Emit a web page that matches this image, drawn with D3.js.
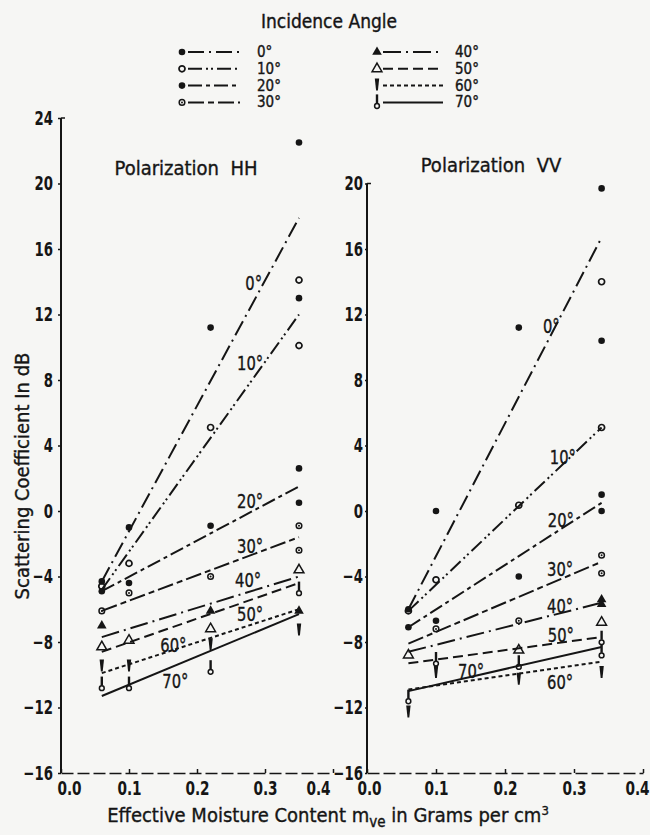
<!DOCTYPE html>
<html>
<head>
<meta charset="utf-8">
<script src="https://cdn.jsdelivr.net/npm/d3@7"></script>
<style>
  body { margin: 0; background: #f6f6f4; }
  text { font-family: "Liberation Sans Narrow", "DejaVu Sans Condensed", "DejaVu Sans", sans-serif; fill: #151515; stroke: #151515; stroke-width: 0.35px; }
  .tick text { font-weight: bold; stroke: none; }
</style>
</head>
<body>
<div id="chart"></div>
<script>
// incidence angles, in legend order
var angles = ["0°", "10°", "20°", "30°", "40°", "50°", "60°", "70°"];

// moisture columns where the samples sit (g/cm3)
var hhX = [0.06, 0.10, 0.22, 0.35];
var vvX = [0.06, 0.10, 0.22, 0.34];

// fitted lines: value (dB) at first and at last column
var hhLineStart = [-4.3, -4.8, -4.9, -6.1, -7.7, -8.6, -9.9, -11.3];
var hhLineEnd   = [17.9, 12.0, 1.5, -1.6, -4.0, -4.4, -6.0, -6.3];
var vvLineStart = [-6.0, -6.1, -7.1, -8.1, -8.6, -9.3, -10.9, -11.0];
var vvLineEnd   = [16.7, 5.1, 0.5, -3.1, -5.6, -7.7, -9.2, -8.3];

// measured points per angle: [column index, dB]
var hhPoints = [
  [[0, -4.3], [1, -1.0], [2, 11.2], [3, 22.5], [3, 13.0]],
  [[0, -4.6], [1, -3.2], [2, 5.1], [3, 14.1], [3, 10.1]],
  [[0, -4.9], [1, -4.4], [2, -0.9], [3, 2.6], [3, 0.5]],
  [[0, -6.1], [1, -5.0], [2, -4.0], [3, -0.9], [3, -2.4]],
  [[0, -7.0], [2, -6.1], [3, -6.1]],
  [[0, -8.3], [1, -7.9], [2, -7.2], [3, -3.6]],
  [[0, -9.5], [1, -9.5], [2, -8.2], [3, -7.3]],
  [[0, -10.6], [1, -10.6], [2, -9.6], [3, -4.8]]
];
var vvPoints = [
  [[0, -6.0], [1, 0.0], [2, 11.2], [3, 19.7], [3, 10.4]],
  [[0, -6.1], [1, -4.2], [2, 0.35], [3, 14.0], [3, 5.1]],
  [[0, -7.1], [1, -6.7], [2, -4.0], [3, 1.0], [3, 0.0]],
  [[1, -7.2], [2, -6.7], [3, -2.7], [3, -3.8]],
  [[3, -5.4], [3, -5.7]],
  [[0, -8.8], [2, -8.5], [3, -6.8]],
  [[0, -12.3], [1, -9.9], [2, -10.3], [3, -9.9]],
  [[0, -11.4], [1, -9.1], [2, -9.3], [3, -7.8], [3, -8.6]]
];

// where each angle label sits: [moisture, dB] (left edge, baseline)
var hhLabels = [[0.271, 13.5], [0.259, 8.6], [0.259, 0.2], [0.259, -2.55], [0.256, -4.65], [0.259, -6.7], [0.146, -8.6], [0.149, -10.8]];
var vvLabels = [[0.255, 10.9], [0.265, 2.9], [0.262, -1.0], [0.261, -4.0], [0.261, -6.2], [0.262, -8.0], [0.261, -10.9], [0.132, -10.2]];

var xTicks = [0, 0.1, 0.2, 0.3, 0.4];
var ink = "#151515";
var dashes = ["16,5,2,5", "14,4,2,3,2,4", "14,4,4,4", "16,4,6,4", "18,5,2,5", "10,5", "4,3", null];

var svg = d3.select("#chart").append("svg")
    .attr("width", 650)
    .attr("height", 835);

var y = d3.scaleLinear().domain([-16, 24]).range([773, 118]);

// the scan's lettering is narrower than any font we have
function squeeze(sel, k) {
  sel.each(function() {
    var t = d3.select(this);
    var x = +t.attr("x") || 0;
    t.attr("x", x / k).attr("transform", "scale(" + k + ",1)");
  });
}

function marker(g, k, cx, cy) {
  var m = g.append("g").attr("transform", "translate(" + cx + "," + cy + ")");
  if (k == 0 || k == 2) {
    m.append("circle").attr("r", 3.3).attr("fill", ink);
  } else if (k == 1) {
    m.append("circle").attr("r", 3).attr("fill", "none").attr("stroke", ink).attr("stroke-width", 1.7);
  } else if (k == 3) {
    m.append("circle").attr("r", 2.8).attr("fill", "none").attr("stroke", ink).attr("stroke-width", 1.5);
    m.append("circle").attr("r", 1).attr("fill", ink);
  } else if (k == 4) {
    m.append("path").attr("d", d3.symbol(d3.symbolTriangle, 40)()).attr("fill", ink);
  } else if (k == 5) {
    m.append("path").attr("d", d3.symbol(d3.symbolTriangle, 42)())
      .attr("fill", "none").attr("stroke", ink).attr("stroke-width", 1.5);
  } else if (k == 6) {
    m.append("path").attr("d", "M-2.2,-7L2.2,-7L0.9,5L-0.9,5Z").attr("fill", ink);
  } else {
    m.append("path").attr("d", "M0,-8V1").attr("stroke", ink).attr("stroke-width", 2.4);
    m.append("circle").attr("cy", 3.6).attr("r", 2.4).attr("fill", "none").attr("stroke", ink).attr("stroke-width", 1.5);
  }
}

var panels = [
  { cols: hhX, pts: hhPoints, a: hhLineStart, b: hhLineEnd, labels: hhLabels, yTop: 24,
    x: d3.scaleLinear().domain([0, 0.4]).range([61, 333]), pad: 5, tsize: 3,
    title: "Polarization  HH", tx: 186, ty: 175, shift: [8, 0, 0, 0, -15] },
  { cols: vvX, pts: vvPoints, a: vvLineStart, b: vvLineEnd, labels: vvLabels, yTop: 20,
    x: d3.scaleLinear().domain([0, 0.4]).range([367, 643]), pad: 2, tsize: 2,
    title: "Polarization  VV", tx: 491, ty: 172, shift: [2, 0, 0, 0, -6] }
];

panels.forEach(function(p) {
  var g = svg.append("g");
  var x = p.x;

  // y axis
  var ya = g.append("g")
      .attr("transform", "translate(" + x(0) + ",0)")
      .call(d3.axisLeft(y).tickValues(d3.range(-16, p.yTop + 1, 4))
        .tickSizeInner(p.tsize).tickSizeOuter(0).tickPadding(p.pad));
  ya.select(".domain").attr("d", "M0," + y(p.yTop) + "V" + y(-16)).attr("stroke", ink).attr("stroke-width", 2);
  ya.selectAll(".tick line").attr("stroke", ink).attr("stroke-width", 1.5);
  ya.selectAll(".tick text").style("font-size", "20px").call(squeeze, 0.74);
  g.append("path").attr("d", "M0," + y(p.yTop) + "h4")
    .attr("transform", "translate(" + x(0) + ",0)").attr("stroke", ink).attr("stroke-width", 1.5);

  // x axis
  var xa = g.append("g")
      .attr("transform", "translate(0," + y(-16) + ")")
      .call(d3.axisBottom(x).tickValues(xTicks).tickFormat(d3.format(".1f"))
        .tickSizeInner(-4).tickSizeOuter(0).tickPadding(8));
  xa.select(".domain").attr("stroke", ink).attr("stroke-width", 1.5).attr("stroke-dasharray", "12,4");
  xa.selectAll(".tick line").attr("stroke", ink).attr("stroke-width", 1.5);
  xa.selectAll(".tick text").style("font-size", "20px").call(squeeze, 0.76)
    .attr("dx", function(d, i) { return p.shift[i] / 0.76; });

  g.append("text")
    .attr("x", p.tx).attr("y", p.ty)
    .attr("text-anchor", "middle")
    .style("font-size", "20px")
    .style("white-space", "pre")
    .text(p.title);

  // fitted lines
  angles.forEach(function(a, k) {
    g.append("line")
      .attr("x1", x(p.cols[0])).attr("y1", y(p.a[k]))
      .attr("x2", x(p.cols[3])).attr("y2", y(p.b[k]))
      .attr("stroke", ink)
      .attr("stroke-width", 2)
      .attr("stroke-dasharray", dashes[k]);
  });

  // samples
  p.pts.forEach(function(list, k) {
    list.forEach(function(d) {
      marker(g, k, x(p.cols[d[0]]), y(d[1]));
    });
  });

  // angle labels
  g.selectAll(".alab")
    .data(p.labels)
    .enter().append("text")
      .attr("class", "alab")
      .attr("x", function(d) { return x(d[0]); })
      .attr("y", function(d) { return y(d[1]); })
      .style("font-size", "20px")
      .text(function(d, i) { return angles[i]; })
      .call(squeeze, 0.82);
});

// legend
svg.append("text")
  .attr("x", 329).attr("y", 28)
  .attr("text-anchor", "middle")
  .style("font-size", "19px")
  .text("Incidence Angle");

var legend = svg.append("g");
angles.forEach(function(a, k) {
  var col = k < 4 ? 0 : 1;
  var row = k % 4;
  var mx = col ? 377 : 182;
  var by = 57 + row * 16.8;
  marker(legend, k, mx, by - 5);
  legend.append("line")
    .attr("x1", mx + 6).attr("x2", mx + (col ? 66 : 58))
    .attr("y1", by - 5).attr("y2", by - 5)
    .attr("stroke", ink).attr("stroke-width", 2)
    .attr("stroke-dasharray", dashes[k]);
  legend.append("text")
    .attr("x", col ? 455 : 257).attr("y", by)
    .style("font-size", "15px")
    .text(a);
});

// axis titles
svg.append("text")
  .attr("transform", "translate(29,476) rotate(-90)")
  .attr("text-anchor", "middle")
  .style("font-size", "20px")
  .text("Scattering Coefficient In dB");

var xt = svg.append("text")
  .attr("x", 328).attr("y", 822)
  .attr("text-anchor", "middle")
  .style("font-size", "20px");
xt.append("tspan").text("Effective Moisture Content m");
xt.append("tspan").attr("dy", 5).style("font-size", "15px").text("ve");
xt.append("tspan").attr("dy", -5).text(" in Grams per cm");
xt.append("tspan").attr("dy", -7).style("font-size", "13px").text("3");
</script>
</body>
</html>
